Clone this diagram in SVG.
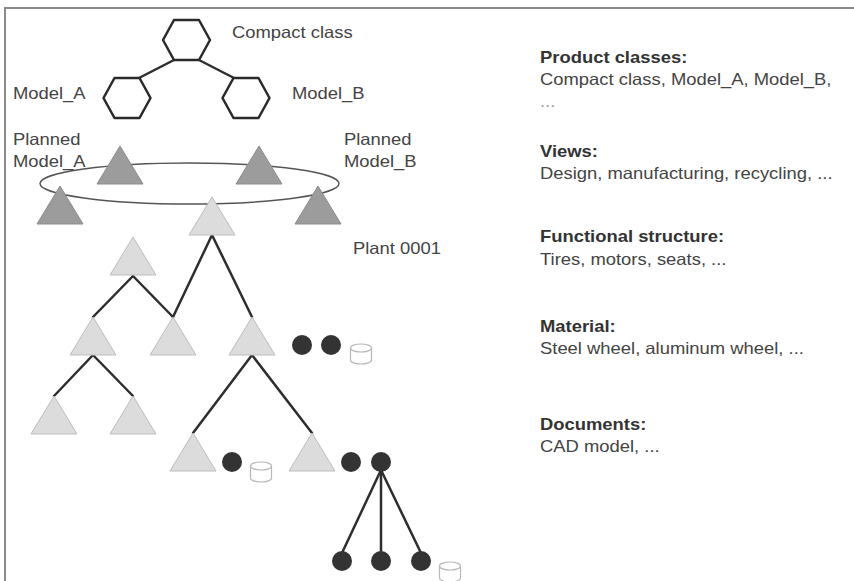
<svg xmlns="http://www.w3.org/2000/svg" width="854" height="581" viewBox="0 0 854 581">
  <style>
    .frame { stroke: #8a8a8a; stroke-width: 2; fill: none; }
    .hex { fill: #ffffff; stroke: #2a2a2a; stroke-width: 2.5; stroke-linejoin: round; }
    .planned { fill: #9c9c9c; stroke: #8c8c8c; stroke-width: 1; }
    .plant { fill: #dcdcdc; stroke: #bdbdbd; stroke-width: 1; }
    .item { fill: #333333; }
    .doc { fill: #ffffff; stroke: #b8b8b8; stroke-width: 1.2; }
    .link { stroke: #2e2e2e; stroke-width: 2.5; fill: none; stroke-linecap: round; }
    .ring { fill: none; stroke: #555555; stroke-width: 1.5; }
    .t { font-family: "Liberation Sans", Arial, sans-serif; font-size: 16.3px; fill: #444444; }
    .b { font-weight: bold; fill: #333333; }
    .dim { fill: #999999; }
  </style>
  <defs>
    <polygon id="hexShape" points="-23.5,0 -12.5,-20 12.5,-20 23.5,0 12.5,20 -12.5,20"/>
    <polygon id="tri" points="0,-19 23,19 -23,19"/>
    <g id="cyl">
      <path d="M-10.5,4 L-10.5,16 A10.5,4 0 0 0 10.5,16 L10.5,4"/>
      <ellipse cx="0" cy="4" rx="10.5" ry="4"/>
    </g>
  </defs>

  <rect width="854" height="581" fill="#ffffff"/>
  <!-- frame -->
  <path class="frame" d="M5,581 L5,8 L854,8"/>

  <!-- connectors -->
  <g id="connectors">
    <line class="link" x1="174" y1="60" x2="139" y2="78"/>
    <line class="link" x1="199" y1="60" x2="234" y2="78"/>
    <line class="link" x1="133" y1="276" x2="93" y2="317"/>
    <line class="link" x1="133" y1="276" x2="173" y2="317"/>
    <line class="link" x1="212" y1="235" x2="173" y2="317"/>
    <line class="link" x1="212" y1="235" x2="252" y2="317"/>
    <line class="link" x1="93" y1="355" x2="54" y2="396"/>
    <line class="link" x1="93" y1="355" x2="133" y2="396"/>
    <line class="link" x1="252" y1="355" x2="193" y2="433"/>
    <line class="link" x1="252" y1="355" x2="312" y2="433"/>
    <line class="link" x1="381" y1="470" x2="342" y2="553"/>
    <line class="link" x1="381" y1="470" x2="381" y2="553"/>
    <line class="link" x1="381" y1="470" x2="421" y2="553"/>
  </g>

  <!-- product classes -->
  <g id="compact-class">
    <use href="#hexShape" class="hex" transform="translate(186.5,40)"/>
    <text class="t" transform="translate(232,38) scale(1.13,1)">Compact class</text>
  </g>
  <g id="model-a">
    <use href="#hexShape" class="hex" transform="translate(127,98)"/>
    <text class="t" transform="translate(13,99) scale(1.13,1)">Model_A</text>
  </g>
  <g id="model-b">
    <use href="#hexShape" class="hex" transform="translate(246,98)"/>
    <text class="t" transform="translate(292,99) scale(1.13,1)">Model_B</text>
  </g>

  <!-- views ring -->
  <g id="views">
    <ellipse class="ring" cx="189.5" cy="183.5" rx="149.5" ry="20.5"/>
    <g id="planned-model-a">
      <use href="#tri" class="planned" transform="translate(120,165)"/>
      <text class="t" transform="translate(13,145) scale(1.13,1)">Planned</text>
      <text class="t" transform="translate(13,167) scale(1.13,1)">Model_A</text>
    </g>
    <g id="planned-model-b">
      <use href="#tri" class="planned" transform="translate(259,165)"/>
      <text class="t" transform="translate(344,145) scale(1.13,1)">Planned</text>
      <text class="t" transform="translate(344,167) scale(1.13,1)">Model_B</text>
    </g>
    <g id="view-left"><use href="#tri" class="planned" transform="translate(60,205)"/></g>
    <g id="view-right"><use href="#tri" class="planned" transform="translate(318,205)"/></g>
  </g>

  <!-- plant structure -->
  <g id="plant-0001">
    <use href="#tri" class="plant" transform="translate(212,216)"/>
    <text class="t" transform="translate(353,254) scale(1.13,1)">Plant 0001</text>
  </g>
  <g id="node-t1"><use href="#tri" class="plant" transform="translate(133,256)"/></g>
  <g id="node-t2a"><use href="#tri" class="plant" transform="translate(93,336)"/></g>
  <g id="node-t2b"><use href="#tri" class="plant" transform="translate(173,336)"/></g>
  <g id="node-t2c"><use href="#tri" class="plant" transform="translate(252,336)"/></g>
  <g id="node-t3a"><use href="#tri" class="plant" transform="translate(54,415)"/></g>
  <g id="node-t3b"><use href="#tri" class="plant" transform="translate(133,415)"/></g>
  <g id="node-t4a"><use href="#tri" class="plant" transform="translate(193,452)"/></g>
  <g id="node-t4b"><use href="#tri" class="plant" transform="translate(312,452)"/></g>

  <!-- materials and documents -->
  <g id="mat-1"><circle class="item" cx="302" cy="345" r="10"/></g>
  <g id="mat-2"><circle class="item" cx="331" cy="345" r="10"/></g>
  <g id="doc-1"><use href="#cyl" class="doc" transform="translate(361,344)"/></g>
  <g id="mat-3"><circle class="item" cx="232" cy="462" r="10"/></g>
  <g id="doc-2"><use href="#cyl" class="doc" transform="translate(261,462)"/></g>
  <g id="mat-4"><circle class="item" cx="351" cy="462" r="10"/></g>
  <g id="mat-5"><circle class="item" cx="381" cy="462" r="10"/></g>
  <g id="mat-6"><circle class="item" cx="342" cy="561" r="10"/></g>
  <g id="mat-7"><circle class="item" cx="381" cy="561" r="10"/></g>
  <g id="mat-8"><circle class="item" cx="421" cy="561" r="10"/></g>
  <g id="doc-3"><use href="#cyl" class="doc" transform="translate(450,562)"/></g>

  <!-- legend -->
  <g id="legend">
    <text class="t b" transform="translate(540,63) scale(1.13,1)">Product classes:</text>
    <text class="t" transform="translate(540,85) scale(1.13,1)">Compact class, Model_A, Model_B,</text>
    <text class="t dim" transform="translate(540,107) scale(1.13,1)">...</text>
    <text class="t b" transform="translate(540,157) scale(1.13,1)">Views:</text>
    <text class="t" transform="translate(540,179) scale(1.13,1)">Design, manufacturing, recycling, ...</text>
    <text class="t b" transform="translate(540,242) scale(1.13,1)">Functional structure:</text>
    <text class="t" transform="translate(540,265) scale(1.13,1)">Tires, motors, seats, ...</text>
    <text class="t b" transform="translate(540,332) scale(1.13,1)">Material:</text>
    <text class="t" transform="translate(540,354) scale(1.13,1)">Steel wheel, aluminum wheel, ...</text>
    <text class="t b" transform="translate(540,430) scale(1.13,1)">Documents:</text>
    <text class="t" transform="translate(540,452) scale(1.13,1)">CAD model, ...</text>
  </g>
</svg>
